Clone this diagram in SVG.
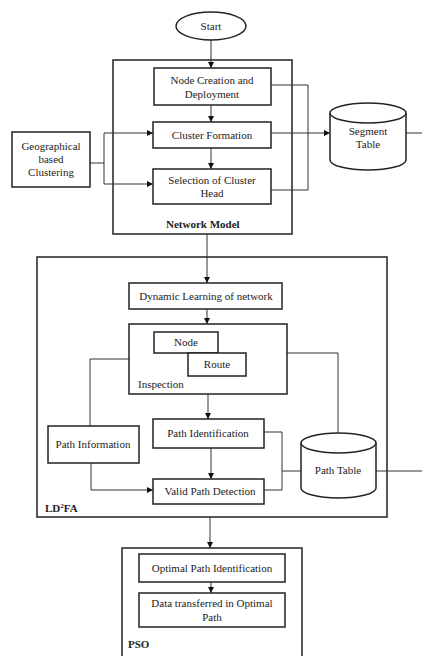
<svg xmlns="http://www.w3.org/2000/svg" width="422" height="656" viewBox="0 0 422 656" font-family="Liberation Serif, DejaVu Serif, serif">
<defs>
<marker id="ah" viewBox="0 0 8 8" refX="8" refY="4" markerWidth="6" markerHeight="6" orient="auto" markerUnits="userSpaceOnUse">
<path d="M0,0 L8,4 L0,8 z" fill="#111"/>
</marker>
<style>
.b{fill:#fff;stroke:#222;stroke-width:1.5}
.c{fill:none;stroke:#222;stroke-width:1.5}
.l{fill:none;stroke:#333;stroke-width:1}
.a{fill:none;stroke:#333;stroke-width:1;marker-end:url(#ah)}
text{font-size:11px;fill:#222;text-anchor:middle}
.t{text-anchor:start;font-weight:bold}
.s{text-anchor:start}
</style>
</defs>
<rect width="422" height="656" fill="#fff"/>
<g id="containers">
<rect id="network-model" class="c" x="113" y="60" width="179" height="174"/>
<rect id="ldfa" class="c" x="37" y="257" width="350" height="260"/>
<rect id="pso" class="c" x="122" y="548" width="180" height="112"/>
</g>
<g id="connectors">
<line class="a" x1="211" y1="40" x2="211" y2="68"/>
<line class="a" x1="211" y1="105" x2="211" y2="122"/>
<line class="a" x1="211" y1="148" x2="211" y2="169"/>
<polyline class="l" points="90,163 104,163"/>
<line class="a" x1="104" y1="133" x2="153" y2="133"/>
<line class="l" x1="104" y1="133" x2="104" y2="184"/>
<line class="a" x1="104" y1="184" x2="153" y2="184"/>
<polyline class="l" points="271,85 308,85 308,190 271,190"/>
<line class="a" x1="271" y1="133" x2="330" y2="133"/>
<line class="l" x1="406" y1="133" x2="422" y2="133"/>
<line class="a" x1="207" y1="234" x2="207" y2="283"/>
<line class="a" x1="207" y1="309" x2="207" y2="324"/>
<polyline class="l" points="129,359 90,359 90,426"/>
<polyline class="a" points="91,463 91,490 153,490"/>
<line class="a" x1="208" y1="394" x2="208" y2="419"/>
<line class="a" x1="211" y1="448" x2="211" y2="479"/>
<polyline class="l" points="264,432 282,432 282,490 264,490"/>
<line class="l" x1="282" y1="471" x2="301" y2="471"/>
<polyline class="l" points="287,353 338,353 338,433"/>
<line class="l" x1="376" y1="471" x2="422" y2="471"/>
<line class="a" x1="210" y1="517" x2="210" y2="548"/>
<line class="a" x1="211" y1="582" x2="211" y2="593"/>
</g>
<g id="start">
<ellipse class="b" cx="211" cy="26" rx="35" ry="14"/>
<text x="211" y="30">Start</text>
</g>
<g id="node-creation">
<rect class="b" x="154" y="68" width="117" height="37"/>
<text x="212" y="84">Node Creation and</text>
<text x="212" y="98">Deployment</text>
</g>
<g id="cluster-formation">
<rect class="b" x="153" y="122" width="118" height="26"/>
<text x="212" y="139">Cluster Formation</text>
</g>
<g id="cluster-head">
<rect class="b" x="153" y="169" width="118" height="35"/>
<text x="212" y="184">Selection of Cluster</text>
<text x="212" y="197">Head</text>
</g>
<g id="network-model-label"><text class="t" x="166" y="228">Network Model</text></g>
<g id="geo">
<rect class="b" x="12" y="132" width="78" height="55"/>
<text x="51" y="150">Geographical</text>
<text x="51" y="163">based</text>
<text x="51" y="176">Clustering</text>
</g>
<g id="segment-table">
<path class="b" d="M330,113 L330,160 A38,10 0 0 0 406,160 L406,113"/>
<ellipse class="b" cx="368" cy="113" rx="38" ry="10"/>
<text x="368" y="135">Segment</text>
<text x="368" y="148">Table</text>
</g>
<g id="dynamic-learning">
<rect class="b" x="129" y="283" width="153" height="26"/>
<text x="206" y="300">Dynamic Learning of network</text>
</g>
<g id="inspection">
<rect class="b" x="129" y="324" width="158" height="70"/>
<text class="s" x="138" y="388">Inspection</text>
</g>
<g id="node">
<rect class="b" x="154" y="332" width="64" height="21"/>
<text x="186" y="346">Node</text>
</g>
<g id="route">
<rect class="b" x="188" y="353" width="58" height="23"/>
<text x="217" y="368">Route</text>
</g>
<g id="path-information">
<rect class="b" x="48" y="426" width="91" height="37"/>
<text x="93" y="448">Path Information</text>
</g>
<g id="path-identification">
<rect class="b" x="153" y="419" width="111" height="29"/>
<text x="208" y="437">Path Identification</text>
</g>
<g id="valid-path">
<rect class="b" x="153" y="479" width="111" height="25"/>
<text x="210" y="495">Valid Path Detection</text>
</g>
<g id="path-table">
<path class="b" d="M301,443 L301,488 A37.5,10 0 0 0 376,488 L376,443"/>
<ellipse class="b" cx="338.5" cy="443" rx="37.5" ry="10"/>
<text x="338" y="474">Path Table</text>
</g>
<g id="ldfa-label"><text class="t" x="45" y="512">LD<tspan font-size="7" dy="-4">2</tspan><tspan dy="4">FA</tspan></text></g>
<g id="optimal-path">
<rect class="b" x="139" y="554" width="146" height="28"/>
<text x="212" y="572">Optimal Path Identification</text>
</g>
<g id="data-transferred">
<rect class="b" x="139" y="593" width="146" height="34"/>
<text x="212" y="607">Data transferred in Optimal</text>
<text x="212" y="621">Path</text>
</g>
<g id="pso-label"><text class="t" x="128" y="648">PSO</text></g>
</svg>
